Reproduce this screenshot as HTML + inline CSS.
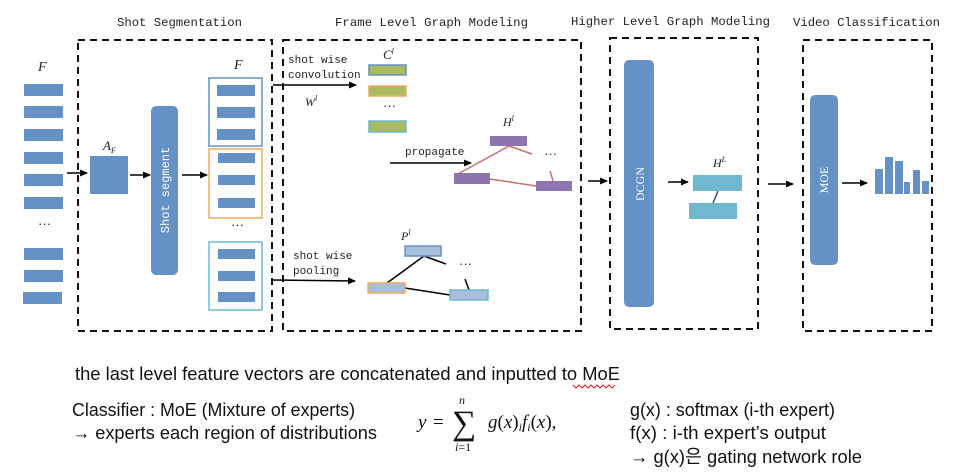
<!DOCTYPE html>
<html><head><meta charset="utf-8"><style>html,body{margin:0;padding:0;background:#fff}svg{display:block}</style></head>
<body>
<svg width="954" height="472" viewBox="0 0 954 472" xmlns="http://www.w3.org/2000/svg">
<defs><marker id="a" markerWidth="8" markerHeight="8" refX="7" refY="4" orient="auto" markerUnits="userSpaceOnUse"><path d="M0,0.5 L8,4 L0,7.5 z" fill="#000"/></marker></defs>
<g font-family="Liberation Mono, monospace" font-size="12.3" fill="#222">
<text x="117" y="26" textLength="125">Shot Segmentation</text>
<text x="335" y="26" textLength="193">Frame Level Graph Modeling</text>
<text x="571" y="25" textLength="199">Higher Level Graph Modeling</text>
<text x="793" y="26" textLength="147">Video Classification</text>
</g>
<g fill="none" stroke="#111" stroke-width="2" stroke-dasharray="7,5">
<rect x="78" y="40" width="194" height="291"/>
<rect x="283" y="40" width="298" height="291"/>
<rect x="610" y="38" width="148" height="291"/>
<rect x="803" y="40" width="129" height="291"/>
</g>
<g fill="#6592c4">
<rect x="24" y="84" width="39" height="12"/><rect x="24" y="106" width="39" height="12"/><rect x="24" y="129" width="39" height="12"/><rect x="24" y="152" width="39" height="12"/><rect x="24" y="174" width="39" height="12"/><rect x="24" y="197" width="39" height="12"/><rect x="24" y="248" width="39" height="12"/><rect x="24" y="270" width="39" height="12"/><rect x="23" y="292" width="39" height="12"/>
<rect x="90" y="156" width="38" height="38"/>
<rect x="151" y="106" width="27" height="169" rx="5"/>
<rect x="217" y="85" width="38" height="11"/><rect x="217" y="107" width="38" height="11"/><rect x="217" y="129" width="38" height="11"/>
<rect x="218" y="153" width="37" height="10"/><rect x="218" y="175" width="37" height="10"/><rect x="218" y="198" width="37" height="10"/>
<rect x="218" y="249" width="37" height="10"/><rect x="218" y="271" width="37" height="10"/><rect x="218" y="292" width="37" height="10"/>
<rect x="624" y="60" width="30" height="247" rx="5"/>
<rect x="810" y="95" width="28" height="170" rx="5"/>
<rect x="875" y="169" width="8" height="25"/><rect x="885" y="157" width="8" height="37"/><rect x="895" y="161" width="8" height="33"/><rect x="904" y="182" width="6" height="12"/><rect x="913" y="170" width="7" height="24"/><rect x="922" y="181" width="7" height="13"/>
</g>
<rect x="209" y="78" width="53" height="68" fill="none" stroke="#6592c4" stroke-width="1.5"/>
<rect x="209" y="149" width="53" height="69" fill="none" stroke="#f0a860" stroke-width="1.5"/>
<rect x="209" y="242" width="53" height="68" fill="none" stroke="#6ab8d4" stroke-width="1.5"/>
<g font-family="Liberation Serif, serif" font-style="italic" fill="#222">
<text x="38" y="71" font-size="14">F</text>
<text x="234" y="69" font-size="14">F</text>
<text x="103" y="150" font-size="13">A<tspan font-size="8" dy="3">F</tspan></text>
<text x="383" y="59" font-size="13">C<tspan font-size="8" dy="-5">l</tspan></text>
<text x="305" y="106" font-size="12">W<tspan font-size="8" dy="-5">l</tspan></text>
<text x="503" y="126" font-size="12">H<tspan font-size="8" dy="-5">l</tspan></text>
<text x="401" y="240" font-size="12">P<tspan font-size="8" dy="-5">l</tspan></text>
<text x="713" y="167" font-size="12">H<tspan font-size="8" dy="-5">L</tspan></text>
</g>
<g font-family="Liberation Sans, sans-serif" font-size="13" fill="#222">
<text x="38" y="228">···</text><text x="231" y="229">···</text><text x="383" y="110">···</text>
<text x="544" y="158">···</text><text x="459" y="268">···</text>
</g>
<text transform="translate(169,190) rotate(-90)" text-anchor="middle" font-family="Liberation Mono, monospace" font-size="12" fill="#fff">Shot segment</text>
<text transform="translate(644,184) rotate(-90)" text-anchor="middle" font-family="Liberation Serif, serif" font-size="12" fill="#fff">DCGN</text>
<text transform="translate(828,180) rotate(-90)" text-anchor="middle" font-family="Liberation Serif, serif" font-size="12" fill="#fff">MOE</text>
<g stroke="#000" stroke-width="1.6" marker-end="url(#a)">
<line x1="67" y1="173" x2="87" y2="173"/><line x1="130" y1="175" x2="150" y2="175"/><line x1="182" y1="175" x2="207" y2="175"/>
<line x1="273" y1="85" x2="356" y2="85"/><line x1="390" y1="163" x2="471" y2="163"/><line x1="273" y1="280" x2="355" y2="281"/>
<line x1="588" y1="181" x2="607" y2="181"/><line x1="668" y1="182" x2="688" y2="182"/><line x1="768" y1="184" x2="793" y2="184"/><line x1="842" y1="183" x2="867" y2="183"/>
</g>
<g font-family="Liberation Mono, monospace" font-size="11" fill="#222">
<text x="288" y="63">shot wise</text><text x="288" y="78">convolution</text>
<text x="405" y="155">propagate</text>
<text x="293" y="259">shot wise</text><text x="293" y="274">pooling</text>
</g>
<g fill="#a9bb5f" stroke-width="1.5">
<rect x="369" y="65" width="37" height="10" stroke="#6592c4"/>
<rect x="369" y="86" width="37" height="10" stroke="#f0a860"/>
<rect x="369" y="121" width="37" height="11" stroke="#6ab8d4"/>
</g>
<g stroke="#c9716a" stroke-width="1.5">
<line x1="509" y1="146" x2="456" y2="175"/><line x1="509" y1="146" x2="532" y2="154"/><line x1="490" y1="179" x2="536" y2="186"/><line x1="550" y1="171" x2="553" y2="181"/>
</g>
<g fill="#8e75b0">
<rect x="454" y="173" width="36" height="11"/><rect x="490" y="136" width="37" height="10"/><rect x="536" y="181" width="36" height="10"/>
</g>
<g stroke="#000" stroke-width="1.5">
<line x1="424" y1="256" x2="387" y2="283"/><line x1="424" y1="256" x2="446" y2="264"/><line x1="405" y1="288" x2="450" y2="295"/><line x1="465" y1="279" x2="469" y2="290"/>
</g>
<g fill="#a9bedb" stroke-width="1.5">
<rect x="405" y="246" width="36" height="10" stroke="#6592c4"/>
<rect x="368" y="283" width="37" height="10" stroke="#f0a860"/>
<rect x="450" y="290" width="38" height="10" stroke="#6ab8d4"/>
</g>
<line x1="718" y1="191" x2="713" y2="203" stroke="#2e4f8c" stroke-width="1.5"/>
<g fill="#70b8d0"><rect x="693" y="175" width="49" height="16"/><rect x="689" y="203" width="48" height="16"/></g>
<g font-family="Liberation Sans, 'Noto Sans CJK KR', sans-serif" font-size="18.5" fill="#111">
<text x="75" y="380" textLength="545" lengthAdjust="spacingAndGlyphs">the last level feature vectors are concatenated and inputted to MoE</text>
<text x="72" y="416" textLength="283" lengthAdjust="spacingAndGlyphs">Classifier : MoE (Mixture of experts)</text>
<text x="72" y="439" textLength="305" lengthAdjust="spacingAndGlyphs">→ experts each region of distributions</text>
<text x="630" y="416" textLength="205" lengthAdjust="spacingAndGlyphs">g(x) : softmax (i-th expert)</text>
<text x="630" y="439" textLength="196" lengthAdjust="spacingAndGlyphs">f(x) : i-th expert’s output</text>
<text x="630" y="463" textLength="232" lengthAdjust="spacingAndGlyphs">→ g(x)은 gating network role</text>
</g>
<path d="M573,385 l3,3 l3,-3 l3,3 l3,-3 l3,3 l3,-3 l3,3 l3,-3 l3,3 l3,-3 l3,3 l3,-3 l3,3 l3,-3" fill="none" stroke="#e02020" stroke-width="1"/>
<g font-family="Liberation Serif, serif" fill="#111">
<text x="418" y="428" font-size="19" font-style="italic">y</text>
<text x="433" y="428" font-size="19">=</text>
<text x="452" y="434" font-size="34">∑</text>
<text x="459" y="404" font-size="12" font-style="italic">n</text>
<text x="455" y="451" font-size="12"><tspan font-style="italic">i</tspan>=1</text>
<text x="488" y="428" font-size="19"><tspan font-style="italic">g</tspan>(<tspan font-style="italic">x</tspan>)<tspan font-style="italic" font-size="12" dy="3">i</tspan><tspan dy="-3" font-style="italic">f</tspan><tspan font-style="italic" font-size="12" dy="3">i</tspan><tspan dy="-3">(</tspan><tspan font-style="italic">x</tspan>),</text>
</g>
</svg>
</body></html>
